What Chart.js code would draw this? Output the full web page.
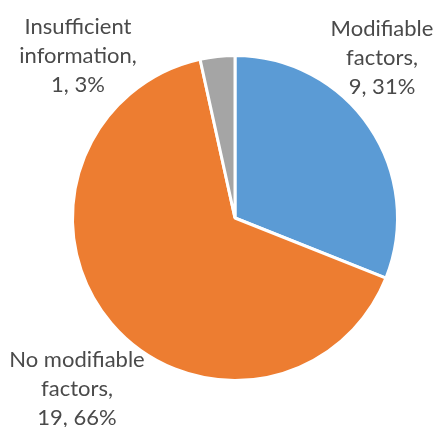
<!DOCTYPE html>
<html>
<head>
<meta charset="utf-8">
<script src="https://cdn.jsdelivr.net/npm/chart.js@4"></script>
<style>
html, body { margin: 0; padding: 0; background: #ffffff; }
#wrap { width: 438px; height: 427px; }
</style>
</head>
<body>
<div id="wrap"><canvas id="myChart" width="438" height="427"></canvas></div>
<script>
/* Data */
var categories = ['Modifiable factors', 'No modifiable factors', 'Insufficient information'];
var counts = [9, 19, 1];
var sliceColors = ['#5b9bd5', '#ed7d31', '#a5a5a5'];

/* label text lines, built from data */
var total = 0;
for (let i = 0; i < counts.length; i++) {
    total += counts[i];
}
var labelLines = [
    ['Modifiable', 'factors,', counts[0] + ', ' + Math.round(counts[0] * 100 / total) + '%'],
    ['No modifiable', 'factors,', counts[1] + ', ' + Math.round(counts[1] * 100 / total) + '%'],
    ['Insufficient', 'information,', counts[2] + ', ' + Math.round(counts[2] * 100 / total) + '%']
];

/* where each label block goes, relative to pie centre (px) */
var labelOffsets = [[147, -189], [-158, 142], [-157, -191]];

/* Data labels plugin */
const outsideLabels = {
    id: 'outsideLabels',
    afterDatasetsDraw(chart) {
        var ctx = chart.ctx;
        var arcs = chart.getDatasetMeta(0).data;
        ctx.save();
        ctx.font = '22px Lato';
        ctx.fillStyle = '#4a4a4a';
        ctx.textAlign = 'center';
        ctx.textBaseline = 'middle';
        for (let i = 0; i < arcs.length; i++) {
            var cx = arcs[i].x + labelOffsets[i][0];
            var cy = arcs[i].y + labelOffsets[i][1];
            for (let j = 0; j < labelLines[i].length; j++) {
                ctx.fillText(labelLines[i][j], cx, cy + j * 29);
            }
        }
        ctx.restore();
    }
};

const config = {
    type: 'pie',
    data: {
        labels: categories,
        datasets: [
            {
                data: counts,
                backgroundColor: sliceColors,
                borderColor: '#ffffff',
                borderWidth: 3
            }
        ]
    },
    options: {
        responsive: false,
        animation: false,
        layout: {
            padding: { top: 54, bottom: 45, left: 71, right: 39 }
        },
        plugins: {
            legend: { display: false },
            tooltip: { enabled: false }
        }
    },
    plugins: [outsideLabels]
};
var myChart = new Chart(document.getElementById('myChart'), config);
</script>
</body>
</html>
